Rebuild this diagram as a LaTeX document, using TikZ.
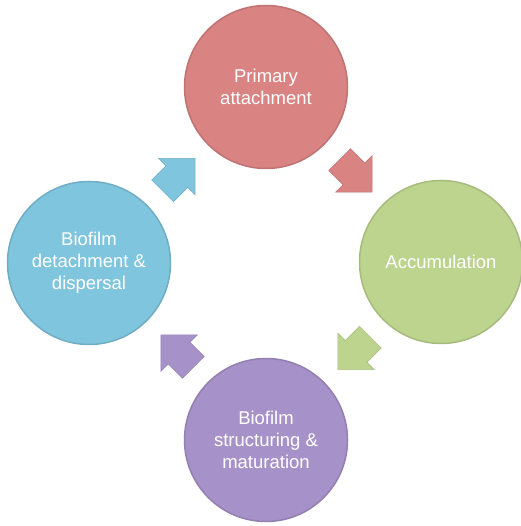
\documentclass[tikz,border=0pt]{standalone}
\usepackage{fontspec}
\setmainfont{Liberation Sans}
\usetikzlibrary{shapes.arrows, calc}
\definecolor{stagered}{RGB}{217,131,131}
\definecolor{stagegreen}{RGB}{189,212,142}
\definecolor{stageblue}{RGB}{127,197,222}
\definecolor{stagepurple}{RGB}{166,146,200}

\begin{document}
\begin{tikzpicture}[x=1pt, y=1pt,
    stage/.style={circle, minimum size=163pt, inner sep=0pt, fill=#1,
                  draw=#1!88!black, line width=1.5pt, text=white, align=center,
                  font=\fontsize{18.5}{22}\selectfont},
    turn/.style={single arrow, fill=#1, draw=#1!90!black, line width=0.6pt,
                 minimum height=46pt, inner xsep=0pt, inner ysep=15pt,
                 single arrow head extend=10.5pt}]
  \useasboundingbox (0,0) rectangle (520,526);
  % Les quatre étapes
  \node[stage=stagered] (attach) at (266,439) {Primary\\attachment};
  \node[stage=stagegreen] (accum) at (441,264) {Accumulation};
  \node[stage=stagepurple] (mature) at (266,86) {Biofilm\\structuring \&\\maturation};
  \node[stage=stageblue] (disperse) at (89,263) {Biofilm\\detachment \&\\dispersal};
  % Flèches du cycle
  \node[turn=stagered, rotate=-45] (toaccum) at ($(attach)!0.5!(accum)+(-3,4)$) {};
  \node[turn=stagegreen, rotate=-135] (tomature) at ($(accum)!0.5!(mature)+(6,3)$) {};
  \node[turn=stagepurple, rotate=135] (todisperse) at ($(mature)!0.5!(disperse)+(5,-5)$) {};
  \node[turn=stageblue, rotate=45] (toattach) at ($(disperse)!0.5!(attach)+(-4,-5)$) {};
\end{tikzpicture}
\end{document}
